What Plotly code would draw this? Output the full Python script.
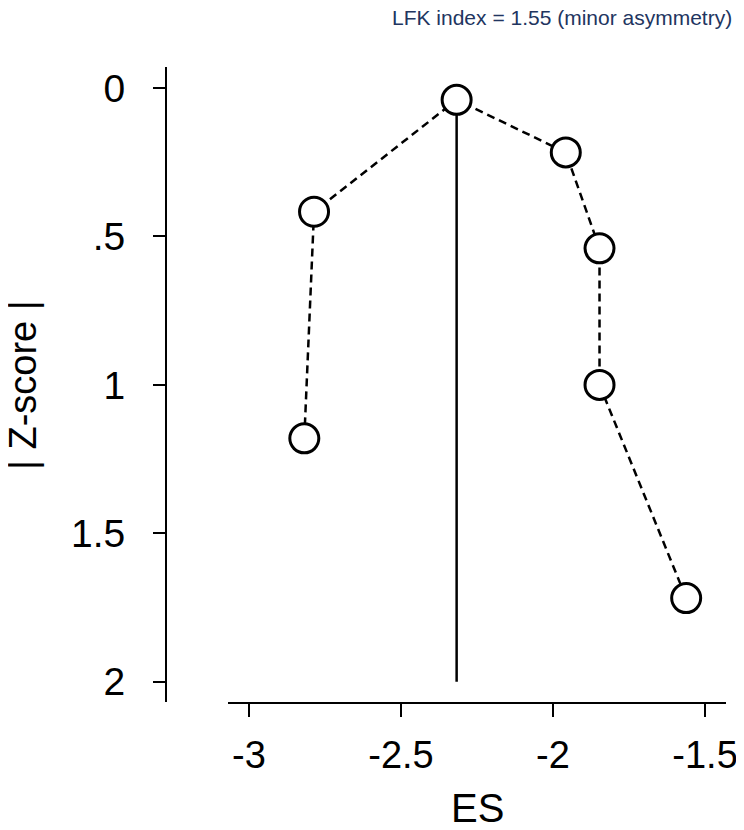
import plotly.graph_objects as go

# Data (Doi plot)
es_values = [-2.818, -2.786, -2.317, -1.958, -1.847, -1.847, -1.562]
z_scores = [1.180, 0.417, 0.040, 0.217, 0.540, 1.000, 1.718]
x_tickvals = [-3, -2.5, -2, -1.5]
x_ticktext = ["-3", "-2.5", "-2", "-1.5"]
y_tickvals = [0, 0.5, 1, 1.5, 2]
y_ticktext = ["0", ".5", "1", "1.5", "2"]
title_text = "LFK index = 1.55 (minor asymmetry)"
x_title = "ES"
y_title = "| Z-score |"

# the page body has an 8px margin; compensate so marks land where the reference has them
OFF = 8
W, H = 744 - OFF, 830 - OFF

def px_x(px):
    return (px - OFF) / W

def px_y(py):
    return (H - (py - OFF)) / H

FONT = "Liberation Sans, Arial, Helvetica, sans-serif"

i_min = z_scores.index(min(z_scores))
es_center = es_values[i_min]

fig = go.Figure()
fig.add_trace(go.Scatter(
    x=[es_center, es_center], y=[z_scores[i_min], max(y_tickvals)],
    mode="lines", line=dict(color="black", width=2.5),
    showlegend=False, hoverinfo="skip"))
fig.add_trace(go.Scatter(
    x=es_values, y=z_scores, mode="lines",
    line=dict(color="black", width=2.5, dash="8px,5px"),
    showlegend=False, hoverinfo="skip"))
fig.add_trace(go.Scatter(
    x=es_values, y=z_scores, mode="markers",
    marker=dict(symbol="circle", size=29, color="white",
                line=dict(color="black", width=3)),
    showlegend=False))

fig.update_layout(
    width=W, height=H,
    margin=dict(l=0, r=0, t=0, b=0),
    paper_bgcolor="white", plot_bgcolor="white",
    font=dict(family=FONT, color="black"),
    xaxis=dict(
        domain=[px_x(228), px_x(726)], anchor="y",
        range=[-3.069, -1.431], automargin=False,
        tickvals=x_tickvals, ticktext=x_ticktext,
        ticks="outside", ticklen=13, tickwidth=2, tickcolor="black",
        showline=True, linewidth=2, linecolor="black",
        showgrid=False, zeroline=False,
        tickfont=dict(size=38, family=FONT, color="black"),
        ticklabelstandoff=5,
    ),
    yaxis=dict(
        domain=[px_y(702), px_y(67)],
        anchor="free", position=px_x(166),
        range=[2.068, -0.0707], automargin=False,
        tickvals=y_tickvals, ticktext=y_ticktext,
        ticks="outside", ticklen=12, tickwidth=2, tickcolor="black",
        showline=True, linewidth=2, linecolor="black",
        showgrid=False, zeroline=False,
        tickfont=dict(size=39, family=FONT, color="black"),
        ticklabelstandoff=20,
    ),
    annotations=[
        dict(text=title_text, xref="paper", yref="paper",
             x=px_x(734), y=px_y(17), xanchor="right", yanchor="middle",
             showarrow=False,
             font=dict(size=21, family=FONT, color="#22355f")),
        dict(text=x_title, xref="paper", yref="paper",
             x=px_x(477), y=px_y(808), xanchor="center", yanchor="middle",
             showarrow=False, font=dict(size=40, family=FONT, color="black")),
        dict(text=y_title, xref="paper", yref="paper",
             x=px_x(23), y=px_y(385), xanchor="center", yanchor="middle",
             textangle=-90, showarrow=False,
             font=dict(size=38, family=FONT, color="black")),
    ],
)

fig.write_html("out.html")
